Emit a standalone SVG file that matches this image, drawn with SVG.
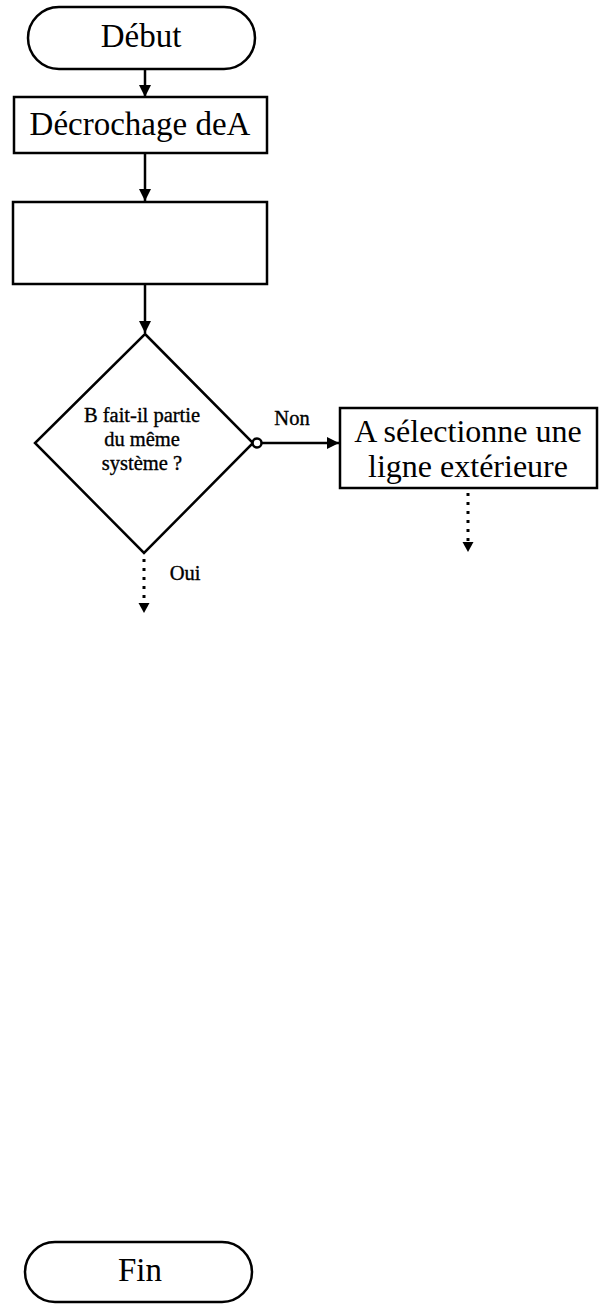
<svg xmlns="http://www.w3.org/2000/svg" width="599" height="1307" viewBox="0 0 599 1307">
<defs>
<marker id="ah" viewBox="0 0 10 10" refX="10" refY="5" markerWidth="12" markerHeight="12" markerUnits="userSpaceOnUse" orient="auto">
<path d="M0,0 L10,5 L0,10 z" fill="#000"/>
</marker>
</defs>
<style>
.shape{fill:#fff;stroke:#000;stroke-width:2.5}
.t{font-family:"Liberation Serif","Times New Roman",serif;fill:#000;text-anchor:middle}
.big{font-size:33px}
.mid{font-size:32px}
.small{font-size:20.5px;stroke:#000;stroke-width:0.35}
.c{stroke:#000;stroke-width:2.5;fill:none}
.dot{stroke:#000;stroke-width:3;fill:none;stroke-dasharray:3 6}
</style>
<rect width="599" height="1307" fill="#fff"/>
<g id="connectors">
<line class="c" x1="145" y1="69" x2="145" y2="97" marker-end="url(#ah)"/>
<line class="c" x1="145" y1="153" x2="145" y2="201" marker-end="url(#ah)"/>
<line class="c" x1="145" y1="284" x2="145" y2="333" marker-end="url(#ah)"/>
<line class="c" x1="261" y1="443" x2="339" y2="443" marker-end="url(#ah)"/>
<line class="dot" x1="144" y1="559" x2="144" y2="604"/>
<path d="M138.5,603 L149.5,603 L144,613 z" fill="#000"/>
<line class="dot" x1="468" y1="493" x2="468" y2="542"/>
<path d="M462.5,542 L473.5,542 L468,552 z" fill="#000"/>
<text class="t small" x="292" y="425">Non</text>
<text class="t small" x="185" y="580">Oui</text>
</g>
<g id="debut">
<rect class="shape" x="28" y="7" width="227" height="62" rx="31" ry="31"/>
<text class="t big" x="141" y="47">Début</text>
</g>
<g id="decrochage">
<rect class="shape" x="14" y="97" width="253" height="56"/>
<text class="t big" x="140" y="135">Décrochage deA</text>
</g>
<g id="box2">
<rect class="shape" x="13" y="202" width="254" height="82"/>
</g>
<g id="decision">
<polygon class="shape" points="145,334 253,443 144,553 35,443"/>
<text class="t small" x="142" y="422">B fait-il partie</text>
<text class="t small" x="142" y="446">du même</text>
<text class="t small" x="142" y="470">système ?</text>
<circle class="shape" cx="257" cy="443" r="4.5"/>
</g>
<g id="selection">
<rect class="shape" x="340" y="408" width="257" height="80"/>
<text class="t mid" x="468" y="442">A sélectionne une</text>
<text class="t mid" x="468" y="477">ligne extérieure</text>
</g>
<g id="fin">
<rect class="shape" x="25" y="1242" width="227" height="60" rx="30" ry="30"/>
<text class="t big" x="140" y="1281">Fin</text>
</g>
</svg>
